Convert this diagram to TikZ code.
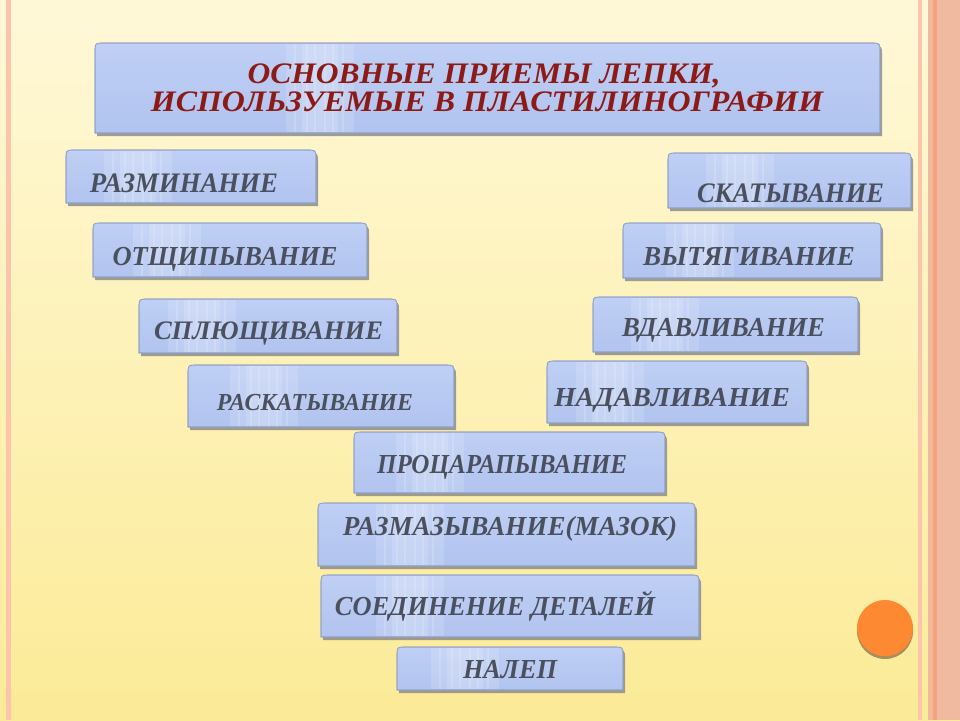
\documentclass[tikz,border=0pt]{standalone}
\usepackage{fontspec}
\setmainfont{Liberation Serif}
\newfontface\bifont{Liberation Serif Bold Italic}
\usepackage{graphicx}
\definecolor{bgtop}{HTML}{FFF8D8}
\definecolor{bgbot}{HTML}{FBEB97}
\definecolor{stripepink}{HTML}{FCC4AA}
\definecolor{salmon}{HTML}{EFBAA0}
\definecolor{salmonline}{HTML}{F3A47A}
\definecolor{boxtop}{HTML}{BFCFF5}
\definecolor{boxbot}{HTML}{B1C4EF}
\definecolor{boxedge}{HTML}{8E9DC4}
\definecolor{boxshadow}{HTML}{7F7F80}
\definecolor{itemtext}{HTML}{4A505E}
\definecolor{titletext}{HTML}{8C1A16}
\definecolor{dotorange}{HTML}{FD8A32}
\definecolor{dotshadow}{HTML}{9A7448}
\tikzset{
  shadowfill/.style={fill=boxshadow, fill opacity=0.75},
  boxfill/.style={top color=boxtop, bottom color=boxbot, draw=boxedge, line width=0.6pt},
  bandfill/.style={fill=white, fill opacity=0.14},
  bandline/.style={fill=white, fill opacity=0.16},
  itemstyle/.style={inner sep=0pt, anchor=base, text=itemtext},
  titlestyle/.style={inner sep=0pt, anchor=base, text=titletext},
}
% box: x1 y1 x2 y2 bandx
\newcommand\slidebox[5]{%
  \fill[shadowfill] ({#1+2},{#4+3}) -- ({#1+2},{#2+12}) .. controls ({#1+2},{#2+3}) .. ({#1+11},{#2+3})
     -- ({#3-7},{#2+3}) .. controls ({#3+2},{#2+3}) .. ({#3+2},{#2+12}) -- ({#3+2},{#4+3}) -- cycle;
  \path[boxfill] (#1,#4) -- (#1,{#2+9}) .. controls (#1,#2) .. ({#1+9},#2)
     -- ({#3-9},#2) .. controls (#3,#2) .. (#3,{#2+9}) -- (#3,#4) -- cycle;
  \begin{scope}
    \clip (#1,#4) -- (#1,{#2+9}) .. controls (#1,#2) .. ({#1+9},#2)
     -- ({#3-9},#2) .. controls (#3,#2) .. (#3,{#2+9}) -- (#3,#4) -- cycle;
    \fill[bandfill] ({#5-34},{#2+1}) rectangle ({#5+34},{#4-1});
    \fill[bandfill] ({#5-18},{#2+1}) rectangle ({#5+18},{#4-1});
    \foreach \dx in {-26,-14,-6,4,12,22} {
      \fill[bandline] ({#5+\dx},{#2+1}) rectangle ({#5+\dx+2},{#4-1});
    }
  \end{scope}
  \draw[boxedge, line width=0.6pt] (#1,#4) -- (#1,{#2+9}) .. controls (#1,#2) .. ({#1+9},#2)
     -- ({#3-9},#2) .. controls (#3,#2) .. (#3,{#2+9}) -- (#3,#4) -- cycle;
}
% fitted text: width, cap height, text
\newcommand\fittext[3]{%
  \resizebox{#1pt}{#2pt}{\fontsize{26}{26}\bifont\raisebox{0pt}[\fontcharht\font"0418][0pt]{#3}}%
}
% text: name x baseline width capheight text
\newcommand\itemtext[6]{%
  \node[itemstyle] (#1) at (#2,#3) {\fittext{#4}{#5}{#6}};
}
\begin{document}
\begin{tikzpicture}[x=1pt,y=-1pt]
\useasboundingbox (0,0) rectangle (960,720);
% background
\fill[top color=bgtop, bottom color=bgbot] (0,0) rectangle (960,720);
\fill[stripepink] (6,0) rectangle (11,720);
\fill[stripepink] (918,0) rectangle (922,720);
\fill[salmon] (928,0) rectangle (960,720);
\fill[salmonline] (933,0) rectangle (937,720);

% title box
\slidebox{95}{43}{880}{133}{320}
\node[titlestyle] (t1) at (484,83) {\fittext{473}{19.5}{ОСНОВНЫЕ ПРИЕМЫ ЛЕПКИ,}};
\node[titlestyle] (t2) at (487,111) {\fittext{672}{19.5}{ИСПОЛЬЗУЕМЫЕ В ПЛАСТИЛИНОГРАФИИ}};

% left column
\slidebox{66}{150}{316}{203}{138}
\itemtext{a1}{184}{192}{188}{18.5}{РАЗМИНАНИЕ}
\slidebox{93}{223}{367}{277}{167}
\itemtext{a2}{225}{265}{225}{18}{ОТЩИПЫВАНИЕ}
\slidebox{139}{299}{397}{353}{202}
\itemtext{a3}{268.5}{339}{229}{17.5}{СПЛЮЩИВАНИЕ}
\slidebox{188}{365}{454}{427}{264}
\itemtext{a4}{315}{410}{196}{16}{РАСКАТЫВАНИЕ}

% right column
\slidebox{668}{153}{911}{208}{740}
\itemtext{b1}{790.5}{202}{187}{18.5}{СКАТЫВАНИЕ}
\slidebox{623}{223}{881}{278}{700}
\itemtext{b2}{749}{265}{212}{18}{ВЫТЯГИВАНИЕ}
\slidebox{593}{297}{858}{352}{665}
\itemtext{b3}{723.5}{336}{203}{18}{ВДАВЛИВАНИЕ}
\slidebox{547}{361}{807}{423}{610}
\itemtext{b4}{672}{406}{236}{18}{НАДАВЛИВАНИЕ}

% centre column
\slidebox{354}{432}{665}{493}{430}
\itemtext{c1}{502}{473}{250}{18}{ПРОЦАРАПЫВАНИЕ}
\slidebox{318}{503}{695}{566}{410}
\itemtext{c2}{510}{535}{334}{18}{РАЗМАЗЫВАНИЕ(МАЗОК)}
\slidebox{321}{575}{699}{637}{410}
\itemtext{c3}{495}{615}{320}{18}{СОЕДИНЕНИЕ ДЕТАЛЕЙ}
\slidebox{397}{647}{623}{690}{465}
\itemtext{c4}{510}{678}{94}{18}{НАЛЕП}

% orange dot
\fill[dotshadow, fill opacity=0.8] (885,631) circle[radius=28];
\node[circle, fill=dotorange, minimum size=56pt, inner sep=0pt] (dot) at (885,628) {};
\end{tikzpicture}
\end{document}
